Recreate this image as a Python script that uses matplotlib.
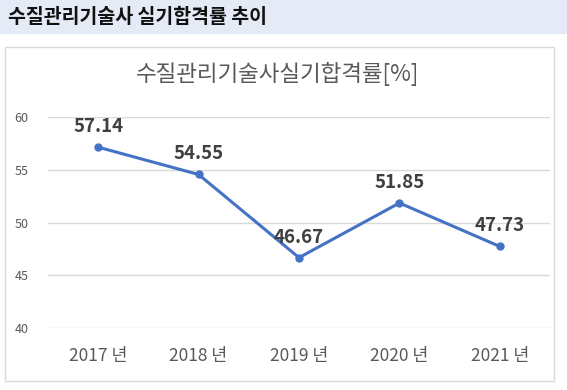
import matplotlib
matplotlib.use("Agg")
import matplotlib.pyplot as plt
from matplotlib.patches import Rectangle

plt.rcParams['font.family'] = ['Noto Sans CJK KR', 'DejaVu Sans']

years = ['2017 년', '2018 년', '2019 년', '2020 년', '2021 년']
rates = [57.14, 54.55, 46.67, 51.85, 47.73]
yticks = [40, 45, 50, 55, 60]

header = '수질관리기술사 실기합격률 추이'
chart_title = '수질관리기술사실기합격률[%]'

W, H = 567, 390
fig = plt.figure(figsize=(W / 100, H / 100), dpi=100)

# header band
fig.patches.append(Rectangle((0, 1 - 33.5 / H), 1, 33.5 / H, transform=fig.transFigure,
                             facecolor='#E4EAF6', edgecolor='none', zorder=0))
fig.text(8 / W, 1 - 17 / H, header, fontsize=14, fontweight='bold', color='#111111',
         ha='left', va='center')

# chart border
fig.patches.append(Rectangle((4.5 / W, 1 - 381 / H), 549 / W, 334 / H, transform=fig.transFigure,
                             facecolor='none', edgecolor='#D9D9D9', linewidth=1, zorder=0))
fig.text(278 / W, 1 - 74 / H, chart_title, fontsize=16.2, color='#595959',
         ha='center', va='center')

ax = fig.add_axes([48 / W, 1 - 328 / H, 502 / W, 211 / H])
ax.set_zorder(2)
ax.set_facecolor('none')
x = list(range(len(years)))
ax.plot(x, rates, color='#4472C4', linewidth=2.2, marker='o', markersize=5, zorder=3)
for xi, v in zip(x, rates):
    ax.annotate('%.2f' % v, (xi, v), xytext=(0, 8), textcoords='offset points',
                ha='center', va='bottom', fontsize=13.5, fontweight='bold', color='#404040')

ax.set_xlim(-0.5, len(years) - 0.5)
ax.set_ylim(40, 60)
ax.set_yticks(yticks)
ax.set_xticks(x)
ax.set_xticklabels(years)
ax.grid(axis='y', color='#D9D9D9', linewidth=1)
ax.set_axisbelow(True)
for s in ax.spines.values():
    s.set_visible(False)
ax.tick_params(axis='both', length=0)
ax.tick_params(axis='y', labelsize=9, labelcolor='#595959', pad=14)
ax.tick_params(axis='x', labelsize=12.5, labelcolor='#595959', pad=14)

fig.savefig('out.png', dpi=100)
